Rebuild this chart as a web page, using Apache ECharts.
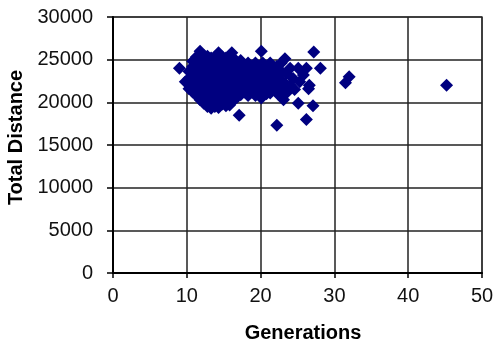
<!DOCTYPE html>
<html>
<head>
<meta charset="utf-8">
<script src="https://cdn.jsdelivr.net/npm/echarts@6/dist/echarts.min.js"></script>
<style>html,body{margin:0;padding:0;background:#fff}#c{width:495px;height:345px}</style>
</head>
<body>
<div id="c"></div>
<script>
const xTicks = [0, 10, 20, 30, 40, 50];
const yTicks = [0, 5000, 10000, 15000, 20000, 25000, 30000];
const generations = [
  9, 9.8,
  10.3,10.3,10.3,
  10.8,10.8,10.8,10.8,10.8,
  11.3,11.3,11.3,11.3,11.3,11.3,
  11.8,11.8,11.8,11.8,11.8,11.8,11.8,
  12.3,12.3,12.3,12.3,12.3,12.3,12.3,
  12.8,12.8,12.8,12.8,12.8,12.8,12.8,
  13.3,13.3,13.3,13.3,13.3,13.3,13.3,
  13.8,13.8,13.8,13.8,13.8,13.8,13.8,
  14.3,14.3,14.3,14.3,14.3,14.3,14.3,
  14.8,14.8,14.8,14.8,14.8,14.8,14.8,
  15.3,15.3,15.3,15.3,15.3,15.3,15.3,
  15.8,15.8,15.8,15.8,15.8,15.8,
  16.1,
  16.3,16.3,16.3,16.3,16.3,16.3,
  16.8,16.8,16.8,16.8,16.8,
  17.1,
  17.3,17.3,17.3,17.3,17.3,
  17.8,17.8,17.8,17.8,
  18.3,18.3,18.3,18.3,18.3,
  18.8,18.8,18.8,18.8,
  19.3,19.3,19.3,19.3,19.3,
  19.8,19.8,19.8,19.8,
  20.1,20.1,
  20.3,20.3,20.3,20.3,
  20.8,20.8,20.8,20.8,
  21.3,21.3,21.3,21.3,
  21.8,21.8,21.8,
  22.2,22.2,
  22.3,22.3,22.3,
  22.8,22.8,22.8,22.8,
  23.1,
  23.3,23.3,
  23.5,23.5,
  24,24,
  24.4,
  24.6,
  25.1,25.1,
  25.3,
  25.8,
  26.2,26.2,
  26.5,
  26.6,
  27.1,
  27.2,
  28.1,
  31.5, 32, 45.2
];
const distances = [
  24000, 22400,
  21600,22800,23600,
  21200,22200,23200,24200,24800,
  20800,21800,22800,23800,24800,25300,
  20300,21300,22300,23300,24300,25300,26000,
  19900,20800,21800,22800,23800,24800,25500,
  19500,20500,21500,22500,23500,24500,25400,
  19300,20200,21200,22200,23200,24200,25200,
  19500,20500,21500,22500,23500,24500,25300,
  19400,20300,21300,22300,23300,24300,25800,
  19800,20800,21800,22800,23800,24800,25300,
  19600,20400,21400,22400,23400,24400,25200,
  19700,20800,21800,22800,23800,24800,
  25800,
  20200,21300,22300,23300,24300,25200,
  20600,21600,22600,23600,24600,
  18500,
  20900,21900,22900,23900,24900,
  21200,22200,23200,24200,
  20800,21600,22600,23600,24600,
  21200,22000,23000,24000,
  20800,21600,22600,23600,24600,
  21200,22200,23200,24200,
  20500,26000,
  21600,22400,23400,24600,
  21000,22000,23000,24000,
  21100,22200,23200,24600,
  21600,22600,23600,
  17300,24200,
  21000,22200,23000,
  21600,22600,23600,24600,
  20300,
  22200,25100,
  21100,23400,
  22000,24000,
  22800,
  21500,
  19900,24000,
  22400,
  23200,
  18000,24000,
  21600,
  22000,
  19600,
  25900,
  24000,
  22300, 23000, 22000
];
const points = generations.map((g, i) => [g, distances[i]]);

const chart = echarts.init(document.getElementById('c'), null, {renderer: 'canvas'});
const font = 'Liberation Sans, Arial, sans-serif';
chart.setOption({
  animation: false,
  grid: {left: 113, right: 13, top: 17, bottom: 72, show: true, borderColor: '#999', borderWidth: 2,
         containLabel: false, outerBoundsMode: 'none'},
  xAxis: {
    type: 'value', min: xTicks[0], max: xTicks[xTicks.length - 1], interval: 10,
    name: 'Generations', nameLocation: 'middle', nameGap: 50,
    nameTextStyle: {fontFamily: font, fontSize: 20, fontWeight: 'bold', color: '#000', padding: [0, 0, 0, 11]},
    axisLine: {show: true, lineStyle: {color: '#000', width: 2}},
    axisTick: {show: true, length: 5, lineStyle: {color: '#000', width: 1.5}},
    axisLabel: {fontFamily: font, fontSize: 20, color: '#111', margin: 13, formatter: v => String(v)},
    splitLine: {show: true, lineStyle: {color: '#222', width: 1.5}}
  },
  yAxis: {
    type: 'value', min: yTicks[0], max: yTicks[yTicks.length - 1], interval: 5000,
    name: 'Total Distance', nameLocation: 'middle', nameGap: 82,
    nameTextStyle: {fontFamily: font, fontSize: 20, fontWeight: 'bold', color: '#000', padding: [0, 0, 0, 15]},
    axisLine: {show: true, lineStyle: {color: '#000', width: 2}},
    axisTick: {show: true, length: 6, lineStyle: {color: '#000', width: 1.5}},
    axisLabel: {fontFamily: font, fontSize: 20, color: '#111', margin: 20, formatter: v => String(v)},
    splitLine: {show: true, lineStyle: {color: '#222', width: 1.5}}
  },
  series: [{
    type: 'scatter', data: points, symbol: 'diamond', symbolSize: 13,
    itemStyle: {color: '#000080', opacity: 1}
  }]
});
</script>
</body>
</html>
